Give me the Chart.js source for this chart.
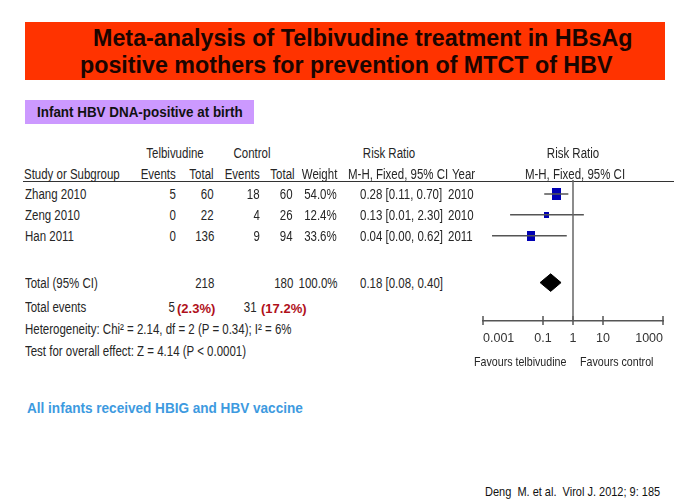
<!DOCTYPE html>
<html>
<head>
<meta charset="utf-8">
<script src="https://cdn.jsdelivr.net/npm/chart.js@4.4.1/dist/chart.umd.min.js"></script>
<style>
  body { margin: 0; background: #fff; }
  #slide { position: relative; width: 680px; height: 504px; overflow: hidden; background: #fff;
           font-family: "Liberation Sans", Arial, sans-serif; }
  .t { position: absolute; white-space: pre; line-height: 1; }
  #forest { position: absolute; left: 470px; top: 140px; }
</style>
</head>
<body>
<div id="slide">
  <div style="position:absolute;left:25px;top:22px;width:640px;height:58px;background:#ff3300"></div>
  <div style="position:absolute;left:25px;top:100px;width:229px;height:24px;background:#cc99ff"></div>
  <div style="position:absolute;left:23px;top:181px;width:651px;height:1px;background:#333"></div>
  <canvas id="forest" width="210" height="230"></canvas>
</div>
<script>
// studies
const studies = ["Zhang 2010", "Zeng 2010", "Han 2011"];
const years = [2010, 2010, 2011];
const telbEvents = [5, 0, 0];
const telbTotal = [60, 22, 136];
const ctrlEvents = [18, 4, 9];
const ctrlTotal = [60, 26, 94];
const weights = [54.0, 12.4, 33.6];
const riskRatio = [0.28, 0.13, 0.04];
const ciLow = [0.11, 0.008, 0.002];
const ciHigh = [0.70, 2.30, 0.62];

// pooled result
const pooled = [0.18, 0.08, 0.40]; // RR, low, high
const totalTelb = 218, totalCtrl = 180;
const eventsTelb = 5, eventsCtrl = 31;
const pctTelb = "(2.3%)", pctCtrl = "(17.2%)";
const heterogeneity = "Heterogeneity: Chi\u00b2 = 2.14, df = 2 (P = 0.34); I\u00b2 = 6%";
const overallEffect = "Test for overall effect: Z = 4.14 (P < 0.0001)";

// axis
const tickValues = [0.001, 0.1, 1, 10, 1000];

// layout
const ROW0 = 194, ROW_H = 21;
const TOTAL_ROW = 4.24;
const Y_TOP = (180 - ROW0) / ROW_H;
const Y_AXIS = (321 - ROW0) / ROW_H;
const rowY = i => ROW0 + i * ROW_H;

const slide = document.getElementById('slide');

function addText(txt, x, y, opt) {
    opt = opt || {};
    let size = opt.size || 14;
    let align = opt.align || 'left';
    let el = document.createElement('div');
    el.className = 't';
    el.textContent = txt;
    el.style.fontSize = size + 'px';
    el.style.top = (y - 0.49 * size) + 'px';
    el.style.color = opt.color || '#262626';
    if (opt.bold) el.style.fontWeight = 'bold';
    slide.appendChild(el);
    let sx = opt.sx || 0.82;
    if (opt.width) sx = opt.width / el.offsetWidth;
    if (align == 'left') {
        el.style.left = x + 'px';
        el.style.transformOrigin = 'left center';
        el.style.transform = 'scaleX(' + sx + ')';
    } else if (align == 'right') {
        el.style.right = (680 - x) + 'px';
        el.style.transformOrigin = 'right center';
        el.style.transform = 'scaleX(' + sx + ')';
    } else {
        el.style.left = x + 'px';
        el.style.transformOrigin = 'center center';
        el.style.transform = 'translateX(-50%) scaleX(' + sx + ')';
    }
    return el;
}

// slide texts
addText("Meta-analysis of Telbivudine treatment in HBsAg", 93, 38, {size: 23, bold: true, width: 540, color: '#1a0500'});
addText("positive mothers for prevention of MTCT of HBV", 80, 65, {size: 23, bold: true, width: 532, color: '#1a0500'});
addText("Infant HBV DNA-positive at birth", 37, 112, {size: 14, bold: true, width: 206, color: '#111'});
addText("All infants received HBIG and HBV vaccine", 27, 408, {size: 14, bold: true, width: 276, color: '#3d9ae0'});
addText("Deng  M. et al.  Virol J. 2012; 9: 185", 485, 491, {size: 13, width: 175, color: '#111'});

// table header
addText("Telbivudine", 175, 153, {align: 'center'});
addText("Control", 252, 153, {align: 'center'});
addText("Risk Ratio", 389, 153, {align: 'center'});
addText("Risk Ratio", 573, 153, {align: 'center'});
addText("Study or Subgroup", 24, 174);
addText("Events", 176, 174, {align: 'right'});
addText("Total", 214, 174, {align: 'right'});
addText("Events", 260, 174, {align: 'right'});
addText("Total", 295, 174, {align: 'right'});
addText("Weight", 337, 174, {align: 'right'});
addText("M-H, Fixed, 95% CI", 348, 174);
addText("Year", 452, 174);
addText("M-H, Fixed, 95% CI", 575, 174, {align: 'center'});

// table rows
studies.forEach((name, i) => {
    let y = rowY(i);
    addText(name, 25, y);
    addText(String(telbEvents[i]), 176, y, {align: 'right'});
    addText(String(telbTotal[i]), 214, y, {align: 'right'});
    addText(String(ctrlEvents[i]), 260, y, {align: 'right'});
    addText(String(ctrlTotal[i]), 293, y, {align: 'right'});
    addText(weights[i].toFixed(1) + '%', 337, y, {align: 'right'});
    addText(riskRatio[i].toFixed(2) + ' [' + ciLow[i].toFixed(2) + ', ' + ciHigh[i].toFixed(2) + ']', 360, y);
    addText(String(years[i]), 448, y);
});

let yTot = rowY(TOTAL_ROW);
addText("Total (95% CI)", 25, yTot);
addText(String(totalTelb), 214, yTot, {align: 'right'});
addText(String(totalCtrl), 293, yTot, {align: 'right'});
addText(weights.reduce((a, b) => a + b, 0).toFixed(1) + '%', 337, yTot, {align: 'right'});
addText(pooled[0].toFixed(2) + ' [' + pooled[1].toFixed(2) + ', ' + pooled[2].toFixed(2) + ']', 360, yTot);

addText("Total events", 25, 307);
addText(String(eventsTelb), 175, 307, {align: 'right'});
addText(pctTelb, 177, 308, {size: 13, bold: true, sx: 1, color: '#b0101a'});
addText(String(eventsCtrl), 257, 307, {align: 'right'});
addText(pctCtrl, 261, 308, {size: 13, bold: true, sx: 1, color: '#b0101a'});
addText(heterogeneity, 25, 329);
addText(overallEffect, 25, 351);

addText("Favours telbivudine", 474, 361, {size: 13});
addText("Favours control", 580, 361, {size: 13});

// forest plot
function boxImage(weight) {
    let h = Math.round(17 * Math.sqrt(weight / 100));
    let w = Math.max(3, Math.round(h * 0.78));
    let c = document.createElement('canvas');
    c.width = w;
    c.height = h;
    let cx = c.getContext('2d');
    cx.fillStyle = '#0000b4';
    cx.fillRect(0, 0, w, h);
    return c;
}

let datasets = [];
// line of no effect
datasets.push({
    data: [{x: 1, y: Y_TOP}, {x: 1, y: Y_AXIS}],
    showLine: true, borderColor: '#666', borderWidth: 1.5, pointRadius: 0
});
// tick marks crossing the axis
datasets.push({
    data: tickValues.map(v => ({x: v, y: Y_AXIS})),
    pointStyle: 'line', pointRotation: 90, pointRadius: 4.5,
    pointBorderColor: '#555', pointBorderWidth: 1.5, clip: false
});
// confidence intervals
studies.forEach((s, i) => {
    datasets.push({
        data: [{x: ciLow[i], y: i}, {x: ciHigh[i], y: i}],
        showLine: true, borderColor: '#555', borderWidth: 1.5, pointRadius: 0
    });
});
// study squares
datasets.push({
    data: riskRatio.map((v, i) => ({x: v, y: i})),
    pointStyle: weights.map(boxImage), pointRadius: 6
});
// pooled diamond
datasets.push({
    data: [
        {x: pooled[1], y: TOTAL_ROW}, {x: pooled[0], y: TOTAL_ROW - 0.42},
        {x: pooled[2], y: TOTAL_ROW}, {x: pooled[0], y: TOTAL_ROW + 0.42},
        {x: pooled[1], y: TOTAL_ROW}
    ],
    showLine: true, fill: 'shape', borderColor: '#000', backgroundColor: '#000',
    borderWidth: 1, pointRadius: 0
});

let graph = new Chart(document.getElementById('forest'), {
    type: 'scatter',
    data: { datasets: datasets },
    options: {
        responsive: false,
        animation: false,
        events: [],
        layout: { padding: { left: 13, right: 17, top: 40, bottom: 12.6 } },
        plugins: { legend: { display: false }, tooltip: { enabled: false } },
        scales: {
            x: {
                type: 'logarithmic',
                min: 0.001,
                max: 1000,
                afterBuildTicks: scale => { scale.ticks = tickValues.map(v => ({value: v})); },
                grid: { display: false, drawTicks: false },
                border: { display: true, color: '#555', width: 1.5 },
                ticks: {
                    align: 'inner', padding: 11, color: '#333', autoSkip: false, maxRotation: 0,
                    font: { family: 'Liberation Sans', size: 12.5 },
                    callback: v => String(v)
                }
            },
            y: { type: 'linear', reverse: true, min: Y_TOP, max: Y_AXIS, display: false }
        }
    }
});
</script>
</body>
</html>
